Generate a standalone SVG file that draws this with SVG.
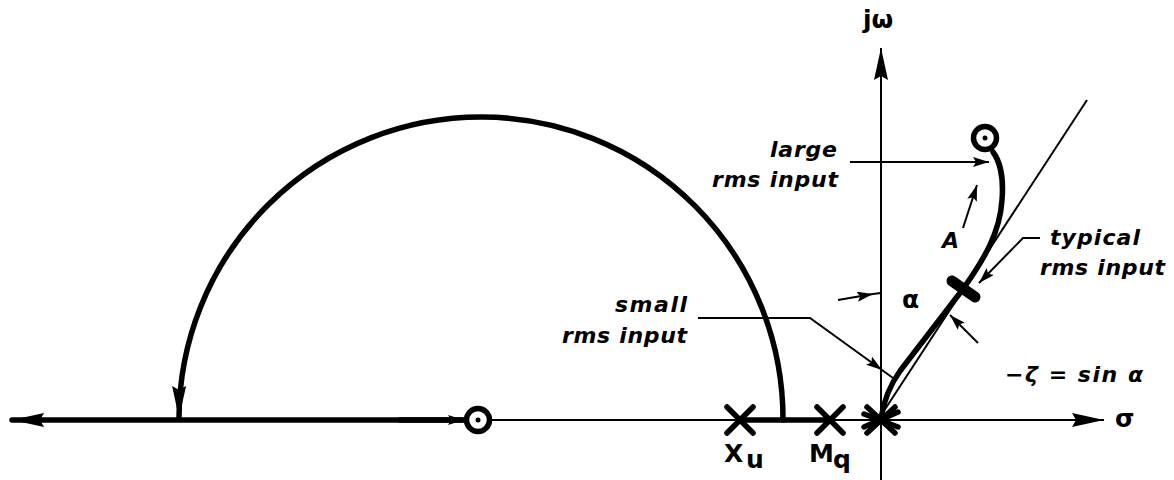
<svg xmlns="http://www.w3.org/2000/svg" width="1174" height="480" viewBox="0 0 1174 480">
<style>
.thin{stroke:#000;stroke-width:2;fill:none}
.thick{stroke:#000;stroke-width:5.5;fill:none;stroke-linecap:round}
.lead{stroke:#000;stroke-width:2;fill:none}
.x{stroke:#000;stroke-width:5.5;stroke-linecap:round}
.ring{stroke:#000;stroke-width:5.5;fill:#fff}
.lbl{font-family:"DejaVu Sans","Liberation Sans",sans-serif;font-weight:bold;font-style:italic;font-size:22px;fill:#000}
.sym{font-family:"DejaVu Sans","Liberation Sans",sans-serif;font-weight:bold;font-size:25px;fill:#000}
</style>
<defs>
<marker id="ah" markerUnits="userSpaceOnUse" markerWidth="16" markerHeight="10" refX="16" refY="5" orient="auto">
<path d="M0,0 L16,5 L0,10 L3,5 z" fill="#000"/>
</marker>
<marker id="ahL" markerUnits="userSpaceOnUse" markerWidth="32" markerHeight="14" refX="32" refY="7" orient="auto">
<path d="M0,0 L32,7 L0,14 L4,7 z" fill="#000"/>
</marker>
</defs>

<g id="connectors">
<!-- real axis -->
<line class="thin" x1="478" y1="420" x2="1104" y2="420" marker-end="url(#ahL)"/>
<line class="thick" x1="462" y1="420" x2="12" y2="420" marker-end="url(#ahL)"/>
<line class="thick" x1="400" y1="420" x2="464" y2="420" marker-end="url(#ah)"/>
<!-- imaginary axis -->
<line class="thin" x1="881" y1="480" x2="881" y2="48" marker-end="url(#ahL)"/>
<!-- semicircle locus -->
<path class="thick" d="M 783 420 A 302 302 0 0 0 179 418" marker-end="url(#ahL)"/>
<!-- Xu-Mq segment -->
<line class="thick" x1="740" y1="420" x2="830" y2="420"/>
<!-- asymptote -->
<line class="thin" x1="878" y1="420" x2="1087" y2="100"/>
<!-- short-period locus -->
<path class="thick" d="M 881 418 C 884 400, 890 385, 900 371 L 963 289 C 985 258, 1000 232, 1002 200 C 1004 176, 999 160, 993 152"/>
<!-- typical rms tick -->
<line x1="952" y1="281" x2="975" y2="297" stroke="#000" stroke-width="11" stroke-linecap="round"/>
<!-- leaders -->
<line class="lead" x1="850" y1="162" x2="989" y2="162" marker-end="url(#ah)"/>
<line class="lead" x1="963" y1="228" x2="977" y2="185" marker-end="url(#ah)"/>
<polyline class="lead" points="1040,238 1023,238 979,283" marker-end="url(#ah)"/>
<line class="lead" x1="978" y1="343" x2="950" y2="315" marker-end="url(#ah)"/>
<line class="lead" x1="838" y1="300" x2="873" y2="294" marker-end="url(#ah)"/>
<line class="lead" x1="873" y1="294" x2="881" y2="293"/>
<polyline class="lead" points="698,318 810,318 882,370" marker-end="url(#ah)"/>
<line class="lead" x1="882" y1="370" x2="893" y2="378"/>
</g>

<g id="zero-left">
<circle class="ring" cx="478" cy="420" r="11.5"/>
<circle cx="478" cy="420" r="2.5" fill="#000"/>
</g>
<g id="zero-right">
<circle class="ring" cx="985" cy="138" r="11.5"/>
<circle cx="985" cy="138" r="2.5" fill="#000"/>
</g>
<g id="pole-Xu">
<line class="x" x1="727" y1="407" x2="753" y2="433"/>
<line class="x" x1="727" y1="433" x2="753" y2="407"/>
<text class="sym" x="724" y="462">X</text>
<text class="sym" x="746" y="468" font-size="20">u</text>
</g>
<g id="pole-Mq">
<line class="x" x1="817" y1="407" x2="843" y2="433"/>
<line class="x" x1="817" y1="433" x2="843" y2="407"/>
<text class="sym" x="809" y="462">M</text>
<text class="sym" x="833" y="468" font-size="20">q</text>
</g>
<g id="pole-origin">
<line class="x" x1="867" y1="407" x2="895" y2="433"/>
<line class="x" x1="867" y1="433" x2="895" y2="407"/>
<line class="x" x1="864" y1="414" x2="898" y2="427"/>
<line class="x" x1="864" y1="427" x2="898" y2="412"/>
</g>

<g id="labels">
<text class="sym" x="863" y="28" font-size="24">jω</text>
<text class="sym" x="1115" y="427" font-size="26">σ</text>
<text class="lbl" x="770" y="157" textLength="67" lengthAdjust="spacing">large</text>
<text class="lbl" x="712" y="187" textLength="126" lengthAdjust="spacing">rms input</text>
<text class="lbl" x="1050" y="245" textLength="90" lengthAdjust="spacing">typical</text>
<text class="lbl" x="1040" y="275" textLength="125" lengthAdjust="spacing">rms input</text>
<text class="lbl" x="615" y="312" textLength="72" lengthAdjust="spacing">small</text>
<text class="lbl" x="562" y="343" textLength="125" lengthAdjust="spacing">rms input</text>
<text class="lbl" x="942" y="248">A</text>
<text class="sym" x="902" y="308" font-size="24">α</text>
<text class="lbl" x="1005" y="382" font-size="24" textLength="138" lengthAdjust="spacing">−ζ = sin α</text>
</g>
</svg>
